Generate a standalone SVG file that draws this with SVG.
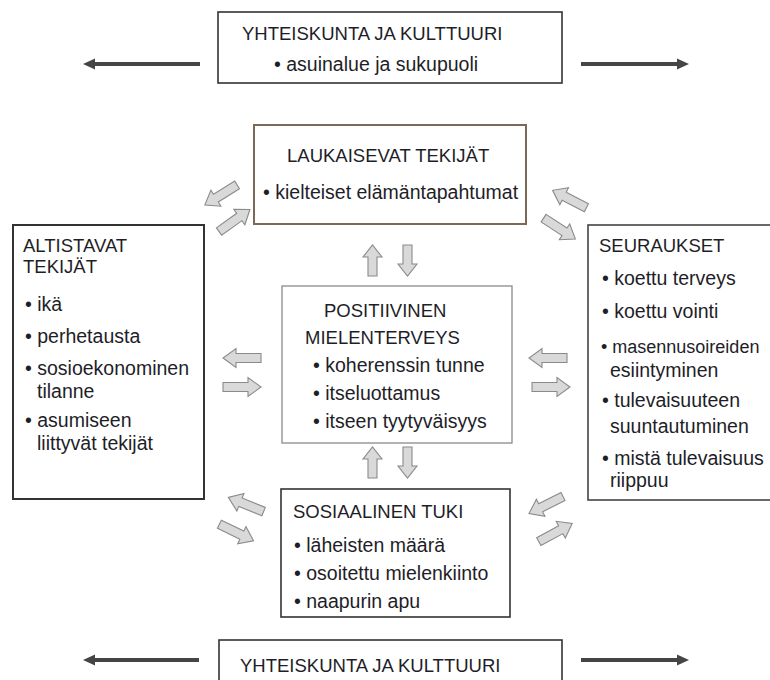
<svg xmlns="http://www.w3.org/2000/svg" xmlns:xlink="http://www.w3.org/1999/xlink" width="770" height="680" viewBox="0 0 770 680">
<style>
.box{fill:#fff;stroke:#333;stroke-width:1.6}
.t{font-family:"Liberation Sans",Arial,sans-serif;fill:#1e1e28;font-size:18.5px}
.b{font-family:"Liberation Sans",Arial,sans-serif;fill:#1e1e28;font-size:19.5px}
.ba{fill:#d9d9d9;stroke:#8a8a8a;stroke-width:1.1;stroke-linejoin:miter}
.dl{stroke:#454545;stroke-width:4;fill:none}
.dh{fill:#454545}
</style>
<defs>
<path id="ba" d="M0,-4.5 H25 V-9.5 L38,0 L25,9.5 V4.5 H0 Z"/>
<path id="bs" d="M0,-4.5 H19 V-9.5 L31,0 L19,9.5 V4.5 H0 Z"/>
</defs>
<rect width="770" height="680" fill="#fff"/>

<g id="connectors">
  <line class="dl" x1="200" y1="64" x2="92" y2="64"/>
  <path class="dh" d="M83,64 L95,58.5 L95,69.5 Z"/>
  <line class="dl" x1="581" y1="64" x2="680" y2="64"/>
  <path class="dh" d="M689,64 L677,58.5 L677,69.5 Z"/>
  <line class="dl" x1="199" y1="660" x2="92" y2="660"/>
  <path class="dh" d="M83,660 L95,654.5 L95,665.5 Z"/>
  <line class="dl" x1="581" y1="660" x2="680" y2="660"/>
  <path class="dh" d="M689,660 L677,654.5 L677,665.5 Z"/>

  <use xlink:href="#ba" class="ba" transform="translate(237.1,184.9) rotate(148)"/>
  <use xlink:href="#ba" class="ba" transform="translate(219,231.5) rotate(-35.5)"/>
  <use xlink:href="#ba" class="ba" transform="translate(586.4,207.7) rotate(207.2)"/>
  <use xlink:href="#ba" class="ba" transform="translate(543.6,218.1) rotate(33.3)"/>

  <use xlink:href="#ba" class="ba" transform="translate(261,358) rotate(180)"/>
  <use xlink:href="#ba" class="ba" transform="translate(223,387)"/>
  <use xlink:href="#ba" class="ba" transform="translate(567,358) rotate(180)"/>
  <use xlink:href="#ba" class="ba" transform="translate(532,387)"/>

  <use xlink:href="#bs" class="ba" transform="translate(372.5,276) rotate(-90)"/>
  <use xlink:href="#bs" class="ba" transform="translate(407.5,245) rotate(90)"/>
  <use xlink:href="#bs" class="ba" transform="translate(372.5,478) rotate(-90)"/>
  <use xlink:href="#bs" class="ba" transform="translate(407.5,447) rotate(90)"/>

  <use xlink:href="#ba" class="ba" transform="translate(263.6,511.6) rotate(202)"/>
  <use xlink:href="#ba" class="ba" transform="translate(219.4,524.2) rotate(26)"/>
  <use xlink:href="#ba" class="ba" transform="translate(563,496.5) rotate(153.4)"/>
  <use xlink:href="#ba" class="ba" transform="translate(538.8,541.6) rotate(-28.5)"/>
</g>

<g id="yhteiskunta-top">
  <rect class="box" x="218" y="12" width="344" height="71"/>
  <text class="t" x="242" y="40">YHTEISKUNTA JA KULTTUURI</text>
  <text class="b" x="274" y="71">• asuinalue ja sukupuoli</text>
</g>

<g id="laukaisevat">
  <rect class="box" x="254" y="125" width="272" height="99" style="stroke:#7a6a55;stroke-width:2"/>
  <text class="t" x="287" y="162">LAUKAISEVAT TEKIJÄT</text>
  <text class="b" x="263" y="199">• kielteiset elämäntapahtumat</text>
</g>

<g id="altistavat">
  <rect class="box" x="13" y="225" width="191" height="274" style="stroke-width:2"/>
  <text class="t" x="23" y="252">ALTISTAVAT</text>
  <text class="t" x="23" y="273">TEKIJÄT</text>
  <text class="b" x="25" y="311">• ikä</text>
  <text class="b" x="25" y="343">• perhetausta</text>
  <text class="b" x="25" y="375">• sosioekonominen</text>
  <text class="b" x="37" y="398">tilanne</text>
  <text class="b" x="25" y="427">• asumiseen</text>
  <text class="b" x="37" y="450">liittyvät tekijät</text>
</g>

<g id="positiivinen">
  <rect class="box" x="282" y="286" width="230" height="157" style="stroke:#8a8a8a;stroke-width:1.3"/>
  <text class="t" x="324" y="317">POSITIIVINEN</text>
  <text class="t" x="305" y="344">MIELENTERVEYS</text>
  <text class="b" x="313" y="372">• koherenssin tunne</text>
  <text class="b" x="313" y="400">• itseluottamus</text>
  <text class="b" x="313" y="428">• itseen tyytyväisyys</text>
</g>

<g id="seuraukset">
  <rect class="box" x="588" y="225" width="190" height="275" style="stroke:#444"/>
  <text class="t" x="599" y="252">SEURAUKSET</text>
  <text class="b" x="602" y="285">• koettu terveys</text>
  <text class="b" x="602" y="318">• koettu vointi</text>
  <text class="b" x="601" y="353" style="font-size:18px">• masennusoireiden</text>
  <text class="b" x="610" y="377">esiintyminen</text>
  <text class="b" x="602" y="407">• tulevaisuuteen</text>
  <text class="b" x="610" y="433">suuntautuminen</text>
  <text class="b" x="602" y="465">• mistä tulevaisuus</text>
  <text class="b" x="610" y="487">riippuu</text>
</g>

<g id="sosiaalinen">
  <rect class="box" x="281" y="489" width="229" height="128"/>
  <text class="t" x="293" y="518">SOSIAALINEN TUKI</text>
  <text class="b" x="294" y="552">• läheisten määrä</text>
  <text class="b" x="294" y="580">• osoitettu mielenkiinto</text>
  <text class="b" x="294" y="608">• naapurin apu</text>
</g>

<g id="yhteiskunta-bottom">
  <rect class="box" x="219" y="640" width="343" height="60"/>
  <text class="t" x="240" y="672">YHTEISKUNTA JA KULTTUURI</text>
</g>
</svg>
